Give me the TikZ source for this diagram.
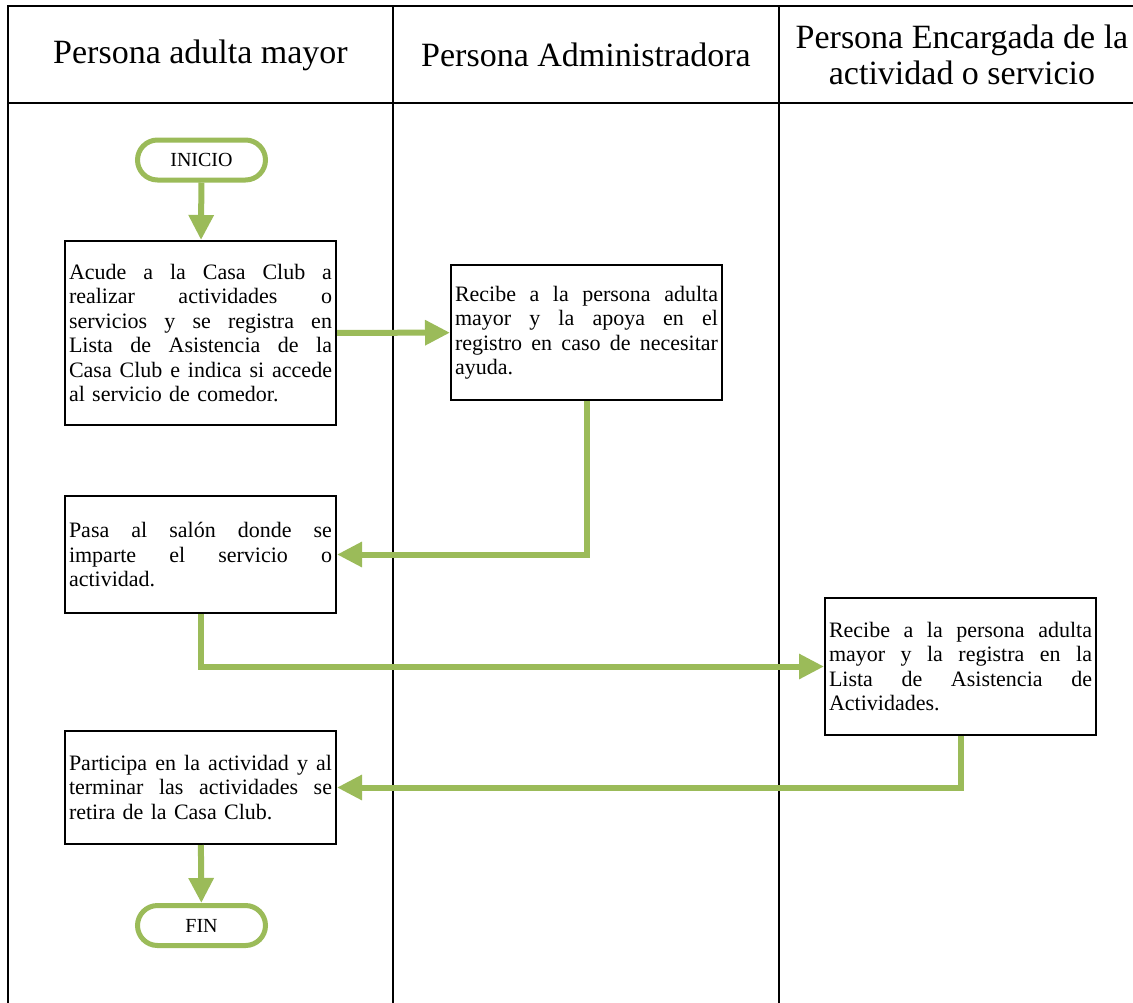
\documentclass[tikz,border=0pt]{standalone}
\usepackage{fontspec}
\setmainfont{Liberation Serif}
\usetikzlibrary{arrows.meta}
\definecolor{flowgreen}{HTML}{9BBB59}
\newcommand\jline[1]{\leavevmode\hbox to 263pt{\spaceskip=0.25em plus 1fil\relax #1}}
\begin{document}
\begin{tikzpicture}[x=1pt,y=-1pt,
  lane/.style={line width=1.6pt, black},
  head/.style={font=\fontsize{34}{36}\selectfont, align=center, inner sep=0pt},
  box/.style={draw, line width=2pt, fill=white, minimum width=271pt, text width=263pt,
    inner xsep=4pt, inner ysep=0pt, align=left, font=\fontsize{22}{24.5}\selectfont},
  term/.style={draw=flowgreen, line width=5pt, rounded corners=20pt, fill=white,
    minimum width=128pt, minimum height=40pt, inner sep=0pt, font=\fontsize{20}{22}\selectfont},
  flow/.style={draw=flowgreen, line width=6pt, line join=miter,
    -{Triangle[length=25pt,width=24pt]}}
]
\path[use as bounding box] (0,0) rectangle (1133,1002);
\clip (0,0) rectangle (1133,1002);
% swimlane frame
\draw[lane] (8,1010) -- (8,6) -- (1140,6);
\draw[lane] (8,103) -- (1140,103);
\draw[lane] (393,6) -- (393,1010);
\draw[lane] (779,6) -- (779,1010);
% headers
\node[head] (h1) at (200.5,55) {Persona adulta mayor};
\node[head] (h2) at (586,55) {Persona Administradora};
\node[head] (h3) at (962,55) {Persona Encargada de la\\actividad o servicio};
% nodes
\node[term] (inicio) at (201.5,160) {INICIO};
\node[box, minimum height=184pt] (b1) at (200.5,333) {%
  \jline{Acude a la Casa Club a}\\
  \jline{realizar actividades o}\\
  \jline{servicios y se registra en}\\
  \jline{Lista de Asistencia de la}\\
  \jline{Casa Club e indica si accede}\\
  al servicio de comedor.};
\node[box, minimum height=135pt] (b2) at (586.5,332.5) {%
  \jline{Recibe a la persona adulta}\\
  \jline{mayor y la apoya en el}\\
  \jline{registro en caso de necesitar}\\
  ayuda.};
\node[box, minimum height=117pt] (b3) at (200.5,554.5) {%
  \jline{Pasa al salón donde se}\\
  \jline{imparte el servicio o}\\
  actividad.};
\node[box, minimum height=137pt] (b4) at (960.5,666.5) {%
  \jline{Recibe a la persona adulta}\\
  \jline{mayor y la registra en la}\\
  \jline{Lista de Asistencia de}\\
  Actividades.};
\node[box, minimum height=113pt] (b5) at (200.5,787.5) {%
  \jline{Participa en la actividad y al}\\
  \jline{terminar las actividades se}\\
  retira de la Casa Club.};
\node[term] (fin) at (201.5,925.5) {FIN};
% connectors
\draw[flow] (inicio) -- (b1);
\draw[flow] (b1) -- (b2);
\draw[flow] (b2.south) |- (b3.east);
\draw[flow] (b3.south) |- (b4.west);
\draw[flow] (b4.south) |- (b5.east);
\draw[flow] (b5) -- (fin);
\end{tikzpicture}
\end{document}
